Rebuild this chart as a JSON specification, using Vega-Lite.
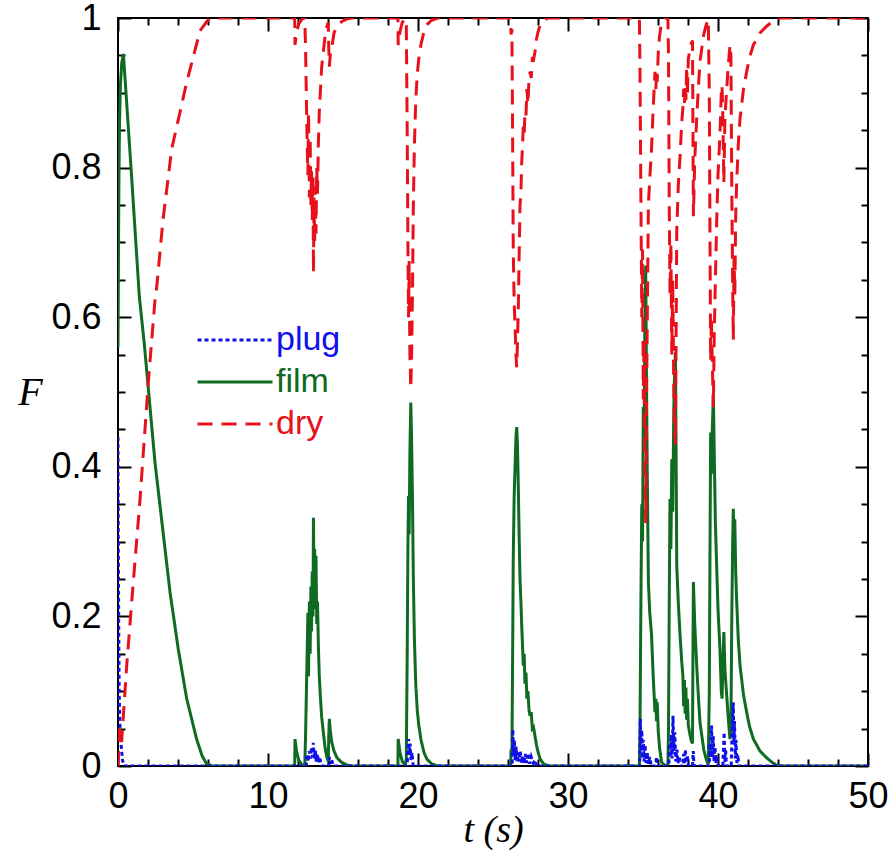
{
  "$schema": "https://vega.github.io/schema/vega-lite/v6.json",
  "width": 750,
  "height": 748,
  "autosize": {"type": "none"},
  "padding": {"left": 118, "top": 18, "right": 22, "bottom": 91},
  "background": "white",
  "config": {
    "view": {"stroke": "black", "strokeWidth": 2},
    "axis": {"grid": false, "domain": false, "tickColor": "black", "tickWidth": 2, "labelFont": "Liberation Sans", "labelFontSize": 36, "labelColor": "black", "titleColor": "black", "labelFlush": false, "labelOverlap": false}
  },
  "datasets": {
    "film": [
      {"t":0,"F":0.56},{"t":0.03,"F":0.68},{"t":0.06,"F":0.78},{"t":0.1,"F":0.86},{"t":0.16,"F":0.91},{"t":0.25,"F":0.94},{"t":0.36,"F":0.952},{"t":0.9,"F":0.79},{"t":1.42,"F":0.628},{"t":1.75,"F":0.565},{"t":2.02,"F":0.505},{"t":2.47,"F":0.405},{"t":3.02,"F":0.31},{"t":3.47,"F":0.232},{"t":4.02,"F":0.156},{"t":4.58,"F":0.09},{"t":5.24,"F":0.036},{"t":5.6,"F":0.014},{"t":5.9,"F":0.003},{"t":6.3,"F":0},
      {"t":11.78,"F":0},{"t":11.8,"F":0.036},{"t":11.9,"F":0.02},{"t":12.05,"F":0.008},{"t":12.25,"F":0.002},{"t":12.45,"F":0},{"t":12.5,"F":0.036},{"t":12.6,"F":0.14},{"t":12.66,"F":0.205},{"t":12.7,"F":0.12},{"t":12.76,"F":0.22},{"t":12.81,"F":0.15},{"t":12.86,"F":0.24},{"t":12.9,"F":0.18},{"t":12.95,"F":0.26},{"t":13.0,"F":0.2},{"t":13.03,"F":0.332},{"t":13.07,"F":0.23},{"t":13.11,"F":0.29},{"t":13.15,"F":0.21},{"t":13.2,"F":0.281},{"t":13.25,"F":0.19},{"t":13.3,"F":0.22},{"t":13.36,"F":0.16},{"t":13.42,"F":0.12},{"t":13.5,"F":0.09},{"t":13.58,"F":0.065},{"t":13.69,"F":0.045},{"t":13.8,"F":0.025},{"t":13.92,"F":0.012},{"t":14.02,"F":0.006},{"t":14.05,"F":0.04},{"t":14.09,"F":0.063},{"t":14.15,"F":0.048},{"t":14.25,"F":0.032},{"t":14.4,"F":0.02},{"t":14.6,"F":0.011},{"t":14.9,"F":0.005},{"t":15.3,"F":0.001},{"t":15.6,"F":0},
      {"t":18.66,"F":0},{"t":18.68,"F":0.036},{"t":18.8,"F":0.018},{"t":18.95,"F":0.006},{"t":19.15,"F":0.001},{"t":19.22,"F":0.01},{"t":19.28,"F":0.15},{"t":19.33,"F":0.3},{"t":19.37,"F":0.361},{"t":19.41,"F":0.31},{"t":19.46,"F":0.42},{"t":19.52,"F":0.486},{"t":19.57,"F":0.44},{"t":19.63,"F":0.36},{"t":19.69,"F":0.25},{"t":19.76,"F":0.17},{"t":19.85,"F":0.11},{"t":19.95,"F":0.075},{"t":20.05,"F":0.055},{"t":20.2,"F":0.035},{"t":20.4,"F":0.018},{"t":20.6,"F":0.009},{"t":20.9,"F":0.003},{"t":21.3,"F":0},
      {"t":26.18,"F":0},{"t":26.2,"F":0.022},{"t":26.26,"F":0.015},{"t":26.3,"F":0.12},{"t":26.35,"F":0.277},{"t":26.41,"F":0.36},{"t":26.47,"F":0.4},{"t":26.53,"F":0.44},{"t":26.58,"F":0.453},{"t":26.63,"F":0.43},{"t":26.69,"F":0.37},{"t":26.75,"F":0.3},{"t":26.8,"F":0.25},{"t":26.86,"F":0.22},{"t":26.91,"F":0.19},{"t":26.97,"F":0.16},{"t":27.02,"F":0.134},{"t":27.08,"F":0.15},{"t":27.13,"F":0.11},{"t":27.2,"F":0.125},{"t":27.26,"F":0.09},{"t":27.33,"F":0.1},{"t":27.4,"F":0.075},{"t":27.47,"F":0.067},{"t":27.55,"F":0.072},{"t":27.62,"F":0.05},{"t":27.7,"F":0.052},{"t":27.8,"F":0.04},{"t":27.9,"F":0.028},{"t":28.0,"F":0.019},{"t":28.13,"F":0.01},{"t":28.36,"F":0.003},{"t":28.7,"F":0},
      {"t":34.76,"F":0},{"t":34.8,"F":0.05},{"t":34.86,"F":0.22},{"t":34.92,"F":0.35},{"t":34.97,"F":0.3},{"t":35.02,"F":0.48},{"t":35.07,"F":0.42},{"t":35.12,"F":0.58},{"t":35.18,"F":0.669},{"t":35.22,"F":0.55},{"t":35.28,"F":0.4},{"t":35.36,"F":0.246},{"t":35.45,"F":0.205},{"t":35.57,"F":0.175},{"t":35.68,"F":0.12},{"t":35.8,"F":0.072},{"t":35.86,"F":0.09},{"t":35.9,"F":0.06},{"t":35.95,"F":0.085},{"t":36.02,"F":0.045},{"t":36.1,"F":0.025},{"t":36.24,"F":0.005},{"t":36.5,"F":0},{"t":36.66,"F":0},{"t":36.7,"F":0.05},{"t":36.75,"F":0.22},{"t":36.8,"F":0.357},{"t":36.86,"F":0.29},{"t":36.92,"F":0.41},{"t":36.98,"F":0.34},{"t":37.05,"F":0.47},{"t":37.1,"F":0.52},{"t":37.16,"F":0.553},{"t":37.2,"F":0.44},{"t":37.25,"F":0.268},{"t":37.35,"F":0.22},{"t":37.47,"F":0.175},{"t":37.58,"F":0.14},{"t":37.66,"F":0.12},{"t":37.71,"F":0.08},{"t":37.76,"F":0.115},{"t":37.81,"F":0.07},{"t":37.86,"F":0.105},{"t":37.91,"F":0.062},{"t":37.96,"F":0.09},{"t":38.02,"F":0.055},{"t":38.1,"F":0.045},{"t":38.2,"F":0.035},{"t":38.3,"F":0.03},{"t":38.33,"F":0.15},{"t":38.36,"F":0.246},{"t":38.45,"F":0.19},{"t":38.58,"F":0.134},{"t":38.7,"F":0.09},{"t":38.8,"F":0.058},{"t":38.91,"F":0.042},{"t":39.05,"F":0.022},{"t":39.2,"F":0.01},{"t":39.35,"F":0.002},{"t":39.42,"F":0.1},{"t":39.47,"F":0.3},{"t":39.51,"F":0.446},{"t":39.56,"F":0.39},{"t":39.62,"F":0.45},{"t":39.69,"F":0.495},{"t":39.75,"F":0.42},{"t":39.82,"F":0.33},{"t":39.91,"F":0.268},{"t":40.0,"F":0.21},{"t":40.13,"F":0.156},{"t":40.22,"F":0.1},{"t":40.27,"F":0.09},{"t":40.33,"F":0.14},{"t":40.39,"F":0.179},{"t":40.46,"F":0.13},{"t":40.58,"F":0.094},{"t":40.7,"F":0.06},{"t":40.8,"F":0.036},{"t":40.86,"F":0.05},{"t":40.92,"F":0.2},{"t":40.98,"F":0.3},{"t":41.02,"F":0.344},{"t":41.07,"F":0.29},{"t":41.12,"F":0.33},{"t":41.18,"F":0.26},{"t":41.24,"F":0.223},{"t":41.35,"F":0.17},{"t":41.47,"F":0.134},{"t":41.7,"F":0.095},{"t":41.91,"F":0.072},{"t":42.1,"F":0.053},{"t":42.36,"F":0.036},{"t":42.8,"F":0.02},{"t":43.24,"F":0.011},{"t":43.6,"F":0.005},{"t":43.9,"F":0.001},{"t":44.2,"F":0},{"t":50,"F":0}
    ],
    "plug": [
      {"t":0,"F":0.44},{"t":0.02,"F":0.3},{"t":0.05,"F":0.18},{"t":0.08,"F":0.1},{"t":0.12,"F":0.06},{"t":0.2,"F":0.03},{"t":0.3,"F":0.008},{"t":0.4,"F":0},
      {"t":12.55,"F":0},{"t":12.6,"F":0.015},{"t":12.68,"F":0.006},{"t":12.75,"F":0.02},{"t":12.82,"F":0.01},{"t":12.9,"F":0.025},{"t":12.97,"F":0.012},{"t":13.02,"F":0.031},{"t":13.08,"F":0.01},{"t":13.15,"F":0.022},{"t":13.22,"F":0.006},{"t":13.3,"F":0.016},{"t":13.38,"F":0.004},{"t":13.45,"F":0.012},{"t":13.55,"F":0},{"t":14.05,"F":0},{"t":14.1,"F":0.012},{"t":14.18,"F":0.003},{"t":14.25,"F":0.008},{"t":14.35,"F":0},
      {"t":19.28,"F":0},{"t":19.32,"F":0.02},{"t":19.37,"F":0.036},{"t":19.42,"F":0.015},{"t":19.47,"F":0.03},{"t":19.53,"F":0.008},{"t":19.6,"F":0.018},{"t":19.68,"F":0},
      {"t":26.28,"F":0},{"t":26.32,"F":0.049},{"t":26.37,"F":0.015},{"t":26.42,"F":0.035},{"t":26.48,"F":0.008},{"t":26.54,"F":0.026},{"t":26.6,"F":0.005},{"t":26.67,"F":0.018},{"t":26.74,"F":0.006},{"t":26.82,"F":0.02},{"t":26.9,"F":0.004},{"t":26.98,"F":0.013},{"t":27.06,"F":0.003},{"t":27.15,"F":0.016},{"t":27.25,"F":0.004},{"t":27.35,"F":0.017},{"t":27.45,"F":0.003},{"t":27.55,"F":0.012},{"t":27.68,"F":0.004},{"t":27.8,"F":0.008},{"t":27.9,"F":0},
      {"t":34.78,"F":0},{"t":34.82,"F":0.063},{"t":34.87,"F":0.02},{"t":34.92,"F":0.048},{"t":34.97,"F":0.01},{"t":35.02,"F":0.035},{"t":35.08,"F":0.006},{"t":35.14,"F":0.028},{"t":35.2,"F":0.004},{"t":35.28,"F":0.018},{"t":35.36,"F":0.003},{"t":35.45,"F":0.012},{"t":35.55,"F":0},{"t":35.85,"F":0},{"t":35.9,"F":0.012},{"t":35.96,"F":0},{"t":36.72,"F":0},{"t":36.76,"F":0.03},{"t":36.82,"F":0.012},{"t":36.88,"F":0.042},{"t":36.94,"F":0.01},{"t":37.0,"F":0.067},{"t":37.06,"F":0.02},{"t":37.12,"F":0.045},{"t":37.18,"F":0.006},{"t":37.26,"F":0.022},{"t":37.34,"F":0.004},{"t":37.42,"F":0.012},{"t":37.5,"F":0},{"t":37.66,"F":0},{"t":37.7,"F":0.016},{"t":37.75,"F":0.002},{"t":37.82,"F":0.022},{"t":37.88,"F":0.004},{"t":37.95,"F":0.014},{"t":38.02,"F":0},{"t":38.3,"F":0},{"t":38.35,"F":0.02},{"t":38.4,"F":0},{"t":39.42,"F":0},{"t":39.46,"F":0.03},{"t":39.51,"F":0.012},{"t":39.57,"F":0.054},{"t":39.62,"F":0.01},{"t":39.68,"F":0.04},{"t":39.74,"F":0.005},{"t":39.8,"F":0.025},{"t":39.86,"F":0.004},{"t":39.92,"F":0.012},{"t":40.0,"F":0},{"t":40.32,"F":0},{"t":40.36,"F":0.02},{"t":40.41,"F":0.045},{"t":40.46,"F":0.005},{"t":40.51,"F":0.022},{"t":40.56,"F":0},{"t":40.88,"F":0},{"t":40.93,"F":0.04},{"t":40.98,"F":0.065},{"t":41.02,"F":0.085},{"t":41.06,"F":0.03},{"t":41.1,"F":0.06},{"t":41.15,"F":0.01},{"t":41.2,"F":0.035},{"t":41.26,"F":0.004},{"t":41.32,"F":0.015},{"t":41.4,"F":0},{"t":50,"F":0}
    ],
    "dry": [
      {"t":0,"F":0},{"t":0.1,"F":0.05},{"t":0.24,"F":0.032},{"t":0.58,"F":0.134},{"t":1.02,"F":0.246},{"t":1.47,"F":0.357},{"t":2.02,"F":0.513},{"t":2.47,"F":0.624},{"t":2.58,"F":0.64},{"t":3.0,"F":0.73},{"t":3.58,"F":0.825},{"t":4.58,"F":0.914},{"t":5.47,"F":0.983},{"t":6.1,"F":1},
      {"t":11.78,"F":1},{"t":11.8,"F":0.964},{"t":11.9,"F":0.98},{"t":12.05,"F":0.992},{"t":12.25,"F":0.998},{"t":12.45,"F":1},{"t":12.5,"F":0.964},{"t":12.6,"F":0.845},{"t":12.66,"F":0.79},{"t":12.7,"F":0.874},{"t":12.76,"F":0.76},{"t":12.81,"F":0.84},{"t":12.86,"F":0.75},{"t":12.9,"F":0.795},{"t":12.95,"F":0.73},{"t":13.0,"F":0.79},{"t":13.03,"F":0.66},{"t":13.07,"F":0.76},{"t":13.11,"F":0.7},{"t":13.15,"F":0.775},{"t":13.2,"F":0.712},{"t":13.25,"F":0.8},{"t":13.3,"F":0.765},{"t":13.36,"F":0.835},{"t":13.42,"F":0.875},{"t":13.5,"F":0.905},{"t":13.58,"F":0.935},{"t":13.69,"F":0.955},{"t":13.8,"F":0.975},{"t":13.92,"F":0.988},{"t":14.02,"F":0.994},{"t":14.05,"F":0.96},{"t":14.09,"F":0.935},{"t":14.15,"F":0.95},{"t":14.25,"F":0.96},{"t":14.4,"F":0.98},{"t":14.6,"F":0.989},{"t":14.9,"F":0.995},{"t":15.3,"F":0.999},{"t":15.6,"F":1},
      {"t":18.66,"F":1},{"t":18.68,"F":0.964},{"t":18.8,"F":0.982},{"t":18.95,"F":0.994},{"t":19.15,"F":0.999},{"t":19.22,"F":0.99},{"t":19.28,"F":0.85},{"t":19.33,"F":0.69},{"t":19.37,"F":0.6},{"t":19.41,"F":0.675},{"t":19.46,"F":0.55},{"t":19.52,"F":0.505},{"t":19.57,"F":0.545},{"t":19.63,"F":0.63},{"t":19.69,"F":0.75},{"t":19.76,"F":0.83},{"t":19.85,"F":0.89},{"t":19.95,"F":0.925},{"t":20.05,"F":0.945},{"t":20.2,"F":0.965},{"t":20.4,"F":0.982},{"t":20.6,"F":0.991},{"t":20.9,"F":0.997},{"t":21.3,"F":1},
      {"t":26.18,"F":1},{"t":26.2,"F":0.978},{"t":26.26,"F":0.985},{"t":26.3,"F":0.87},{"t":26.35,"F":0.69},{"t":26.41,"F":0.62},{"t":26.47,"F":0.59},{"t":26.53,"F":0.55},{"t":26.58,"F":0.533},{"t":26.63,"F":0.565},{"t":26.69,"F":0.615},{"t":26.75,"F":0.69},{"t":26.8,"F":0.75},{"t":26.86,"F":0.765},{"t":26.91,"F":0.805},{"t":26.97,"F":0.83},{"t":27.02,"F":0.855},{"t":27.08,"F":0.845},{"t":27.13,"F":0.875},{"t":27.2,"F":0.87},{"t":27.26,"F":0.905},{"t":27.33,"F":0.885},{"t":27.4,"F":0.92},{"t":27.47,"F":0.928},{"t":27.55,"F":0.92},{"t":27.62,"F":0.945},{"t":27.7,"F":0.944},{"t":27.8,"F":0.955},{"t":27.9,"F":0.972},{"t":28.0,"F":0.981},{"t":28.13,"F":0.99},{"t":28.36,"F":0.997},{"t":28.7,"F":1},
      {"t":34.76,"F":1},{"t":34.8,"F":0.93},{"t":34.86,"F":0.76},{"t":34.92,"F":0.6},{"t":34.97,"F":0.69},{"t":35.02,"F":0.49},{"t":35.07,"F":0.57},{"t":35.12,"F":0.4},{"t":35.18,"F":0.325},{"t":35.22,"F":0.445},{"t":35.28,"F":0.585},{"t":35.36,"F":0.75},{"t":35.45,"F":0.785},{"t":35.57,"F":0.825},{"t":35.68,"F":0.88},{"t":35.8,"F":0.928},{"t":35.86,"F":0.905},{"t":35.9,"F":0.93},{"t":35.95,"F":0.915},{"t":36.02,"F":0.955},{"t":36.1,"F":0.975},{"t":36.24,"F":0.995},{"t":36.5,"F":1},{"t":36.66,"F":1},{"t":36.7,"F":0.95},{"t":36.75,"F":0.75},{"t":36.8,"F":0.63},{"t":36.86,"F":0.7},{"t":36.92,"F":0.55},{"t":36.98,"F":0.65},{"t":37.05,"F":0.51},{"t":37.1,"F":0.45},{"t":37.16,"F":0.43},{"t":37.2,"F":0.55},{"t":37.25,"F":0.715},{"t":37.35,"F":0.775},{"t":37.47,"F":0.815},{"t":37.58,"F":0.86},{"t":37.66,"F":0.88},{"t":37.71,"F":0.905},{"t":37.76,"F":0.885},{"t":37.81,"F":0.91},{"t":37.86,"F":0.89},{"t":37.91,"F":0.935},{"t":37.96,"F":0.898},{"t":38.02,"F":0.945},{"t":38.1,"F":0.955},{"t":38.2,"F":0.965},{"t":38.3,"F":0.97},{"t":38.33,"F":0.85},{"t":38.36,"F":0.735},{"t":38.45,"F":0.81},{"t":38.58,"F":0.866},{"t":38.7,"F":0.91},{"t":38.8,"F":0.942},{"t":38.91,"F":0.958},{"t":39.05,"F":0.978},{"t":39.2,"F":0.99},{"t":39.35,"F":0.998},{"t":39.42,"F":0.9},{"t":39.47,"F":0.69},{"t":39.51,"F":0.542},{"t":39.56,"F":0.6},{"t":39.62,"F":0.54},{"t":39.69,"F":0.48},{"t":39.75,"F":0.575},{"t":39.82,"F":0.645},{"t":39.91,"F":0.725},{"t":40.0,"F":0.79},{"t":40.13,"F":0.844},{"t":40.22,"F":0.9},{"t":40.27,"F":0.91},{"t":40.33,"F":0.86},{"t":40.39,"F":0.78},{"t":40.46,"F":0.865},{"t":40.58,"F":0.906},{"t":40.7,"F":0.94},{"t":40.8,"F":0.964},{"t":40.86,"F":0.95},{"t":40.92,"F":0.77},{"t":40.98,"F":0.64},{"t":41.02,"F":0.57},{"t":41.07,"F":0.68},{"t":41.12,"F":0.63},{"t":41.18,"F":0.735},{"t":41.24,"F":0.777},{"t":41.35,"F":0.83},{"t":41.47,"F":0.866},{"t":41.7,"F":0.905},{"t":41.91,"F":0.928},{"t":42.1,"F":0.947},{"t":42.36,"F":0.964},{"t":42.8,"F":0.98},{"t":43.24,"F":0.989},{"t":43.6,"F":0.995},{"t":43.9,"F":0.999},{"t":44.2,"F":1},{"t":50,"F":1}
    ],
    "frame": [{"t":0,"F":0}]
  },
  "layer": [
    {
      "data": {"name": "film"},
      "mark": {"type": "line", "strokeWidth": 3, "clip": true},
      "encoding": {
        "x": {"field": "t", "type": "quantitative", "scale": {"domain": [0, 50], "nice": false, "zero": false},
          "axis": {"orient": "bottom", "values": [0,2,4,6,8,10,12,14,16,18,20,22,24,26,28,30,32,34,36,38,40,42,44,46,48,50],
            "labelExpr": "datum.value % 10 === 0 ? datum.label : ''",
            "tickSize": {"condition": {"test": "datum.value % 10 === 0", "value": -13}, "value": -7},
            "labelPadding": 26,
            "title": "t (s)", "titleFont": "Liberation Serif", "titleFontStyle": "italic", "titleFontWeight": "normal", "titleFontSize": 38, "titlePadding": -9}},
        "y": {"field": "F", "type": "quantitative", "scale": {"domain": [0, 1], "nice": false},
          "axis": {"orient": "left", "values": [0,0.05,0.1,0.15,0.2,0.25,0.3,0.35,0.4,0.45,0.5,0.55,0.6,0.65,0.7,0.75,0.8,0.85,0.9,0.95,1],
            "labelExpr": "round(datum.value*100) % 20 === 0 ? format(datum.value, '~g') : ''",
            "tickSize": {"condition": {"test": "round(datum.value*100) % 20 === 0", "value": -13}, "value": -7},
            "labelPadding": 30,
            "title": "F", "titleFont": "Liberation Serif", "titleFontStyle": "italic", "titleFontWeight": "normal", "titleFontSize": 40,
            "titleAngle": 0, "titleAlign": "center", "titleBaseline": "middle", "titleX": -88, "titleY": 374}},
        "color": {"datum": "film", "type": "nominal",
          "scale": {"domain": ["plug", "film", "dry"], "range": ["#1010e8", "#0f6a22", "#e8101a"]},
          "legend": {"orient": "none", "legendX": 100, "legendY": 305, "title": null, "symbolType": "M-2.5,0H2.5", "symbolSize": 900, "symbolStrokeWidth": 3, "symbolFillColor": "transparent",
            "labelFont": "Liberation Sans", "labelFontSize": 34, "labelOffset": 24, "rowPadding": 8,
            "encode": {"labels": {"update": {"fill": {"scale": "color", "field": "value"}}}}}},
        "strokeDash": {"datum": "film", "type": "nominal",
          "scale": {"domain": ["plug", "film", "dry"], "range": [[4, 3], [1, 0], [15, 9]]},
          "legend": {"orient": "none", "legendX": 100, "legendY": 305, "title": null, "symbolType": "M-2.5,0H2.5", "symbolSize": 900, "symbolStrokeWidth": 3, "symbolFillColor": "transparent",
            "labelFont": "Liberation Sans", "labelFontSize": 34, "labelOffset": 24, "rowPadding": 8,
            "encode": {"labels": {"update": {"fill": {"scale": "color", "field": "value"}}}}}}
      }
    },
    {
      "data": {"name": "plug"},
      "mark": {"type": "line", "strokeWidth": 3, "clip": true},
      "encoding": {
        "x": {"field": "t", "type": "quantitative", "axis": null},
        "y": {"field": "F", "type": "quantitative", "axis": null},
        "color": {"datum": "plug", "type": "nominal"},
        "strokeDash": {"datum": "plug", "type": "nominal"}
      }
    },
    {
      "data": {"name": "dry"},
      "mark": {"type": "line", "strokeWidth": 3, "clip": true},
      "encoding": {
        "x": {"field": "t", "type": "quantitative", "axis": null},
        "y": {"field": "F", "type": "quantitative", "axis": null},
        "color": {"datum": "dry", "type": "nominal"},
        "strokeDash": {"datum": "dry", "type": "nominal"}
      }
    },
    {
      "data": {"name": "frame"},
      "mark": {"type": "point", "opacity": 0},
      "encoding": {
        "x": {"field": "t", "type": "quantitative",
          "axis": {"orient": "top", "values": [0,2,4,6,8,10,12,14,16,18,20,22,24,26,28,30,32,34,36,38,40,42,44,46,48,50], "labels": false, "title": null,
            "tickSize": {"condition": {"test": "datum.value % 10 === 0", "value": -13}, "value": -7}}},
        "y": {"field": "F", "type": "quantitative",
          "axis": {"orient": "right", "values": [0,0.05,0.1,0.15,0.2,0.25,0.3,0.35,0.4,0.45,0.5,0.55,0.6,0.65,0.7,0.75,0.8,0.85,0.9,0.95,1], "labels": false, "title": null,
            "tickSize": {"condition": {"test": "round(datum.value*100) % 20 === 0", "value": -13}, "value": -7}}}
      }
    }
  ],
  "resolve": {"axis": {"x": "independent", "y": "independent"}}
}
